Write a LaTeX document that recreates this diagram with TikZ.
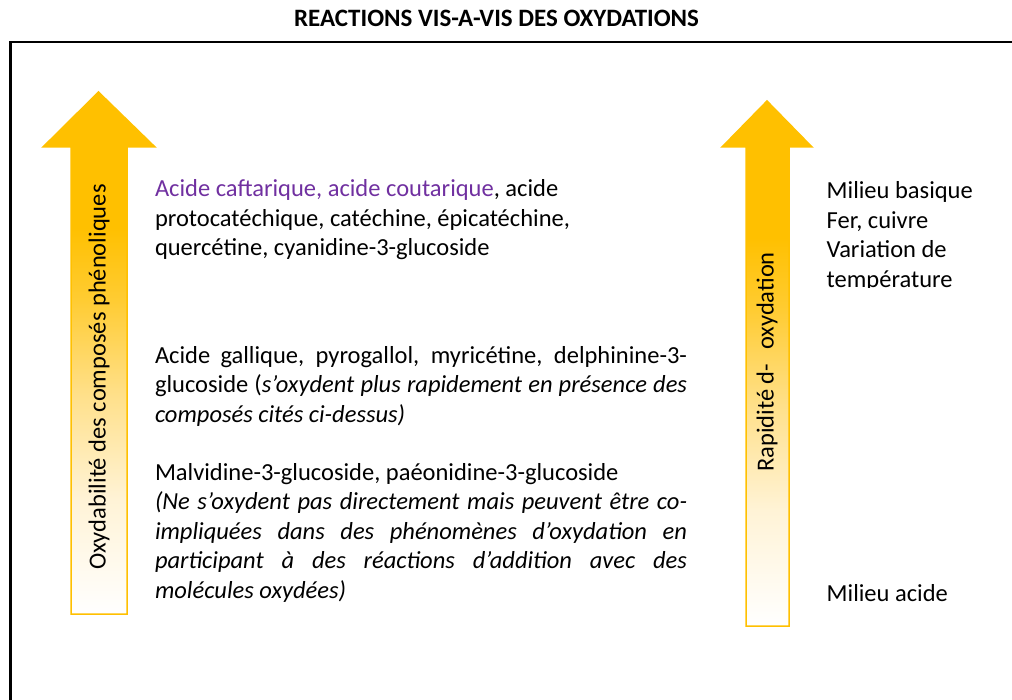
\documentclass[tikz,border=0pt]{standalone}
\usepackage{fontspec}
\setmainfont{Carlito}
\definecolor{gold}{HTML}{FFC000}
\definecolor{goldA}{HTML}{FFF3D6}
\definecolor{goldB}{HTML}{FFE08A}
\definecolor{goldC}{HTML}{FFCC33}
\definecolor{violet}{HTML}{7030A0}
\pgfdeclareverticalshading{arrowfade}{100bp}{color(0bp)=(white); color(25bp)=(white); color(36bp)=(goldA); color(46bp)=(goldB); color(55bp)=(goldC); color(62bp)=(gold); color(100bp)=(gold)}
\begin{document}
\begin{tikzpicture}[x=1pt,y=-1pt,
  body/.style={font=\fontsize{24.5}{29.5}\selectfont, inner sep=0pt, outer sep=0pt, anchor=north west, align=left},
  vlabel/.style={rotate=90, font=\fontsize{24.5}{28}\selectfont, inner sep=0pt},
  bigarrow/.style={draw=gold, line width=1.5pt, shading=arrowfade, shade}]
\useasboundingbox (0,0) rectangle (1012,700);
% title
\node[font=\bfseries\fontsize{25}{28}\selectfont, anchor=base, inner sep=0pt] (title) at (496.5,26.7) {REACTIONS VIS-A-VIS DES OXYDATIONS};
% frame
\draw[line width=2.5pt] (10.5,700) -- (10.5,42) -- (1012,42);
% arrows
\path[bigarrow] (71,614) -- (71,147) -- (43,147) -- (98.5,92) -- (155,147) -- (127,147) -- (127,614) -- cycle;
\path[bigarrow] (746,626) -- (746,147) -- (722,147) -- (767,101) -- (812,147) -- (789,147) -- (789,626) -- cycle;
\node[vlabel] (lab1) at (99,377) {Oxydabilité des composés phénoliques};
\node[vlabel] (lab2) at (767,362) {Rapidité d-\hspace{14pt}oxydation};
% text blocks
\node[body] (p1) at (155,174.7) {\rule{0pt}{22pt}{\color{violet}Acide caftarique, acide coutarique}, acide\\
protocatéchique, catéchine, épicatéchine,\\
quercétine, cyanidine-3-glucoside};
\node[body] (p2) at (155,341.3) {\rule{0pt}{22pt}\makebox[532pt][s]{Acide gallique, pyrogallol, myricétine, delphinine-3-}\\
\makebox[532pt][s]{glucoside (\textit{s’oxydent plus rapidement en présence des}}\\
\textit{composés cités ci-dessus)}};
\node[body] (p3) at (155,458) {\rule{0pt}{22pt}Malvidine-3-glucoside, paéonidine-3-glucoside\\
\makebox[532pt][s]{\textit{(Ne s’oxydent pas directement mais peuvent être co-}}\\
\makebox[532pt][s]{\textit{impliquées dans des phénomènes d’oxydation en}}\\
\makebox[532pt][s]{\textit{participant à des réactions d’addition avec des}}\\
\textit{molécules oxydées)}};
\begin{scope}
\clip (800,160) rectangle (1012,287.5);
\node[body] (r1) at (826.7,177) {\rule{0pt}{22pt}Milieu basique\\Fer, cuivre\\Variation de\\température};
\end{scope}
\node[body, anchor=base west] (r2) at (826.7,601) {Milieu acide};
\end{tikzpicture}
\end{document}
